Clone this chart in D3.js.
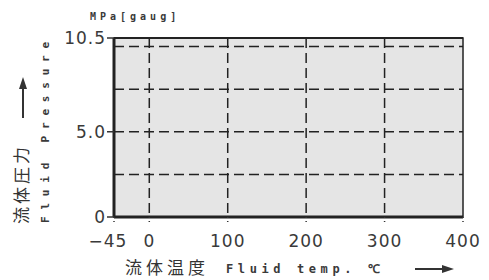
<!DOCTYPE html>
<html>
  <head>
    <meta charset="utf-8">
    <title>Fluid Pressure vs Fluid Temperature</title>
    <style>
      body { margin: 0; background: #fff; }
      .tick text { font: 17px "DejaVu Sans", sans-serif; fill: #3a3a3a; letter-spacing: 1px; }
      .mono { font-family: "DejaVu Sans Mono", monospace; font-weight: bold; fill: #3a3a3a; }
      .jp { font-family: "Noto Sans CJK JP", sans-serif; fill: #333; }
      .grid { stroke: #222; stroke-width: 1.5; stroke-dasharray: 10 5; fill: none; }
    </style>
  </head>
  <body>
    <div id="chart"></div>
    <script src="https://d3js.org/d3.v7.min.js"></script>
    <script>
      // axis ticks and grid positions
      const xTicks = [-45, 0, 100, 200, 300, 400];
      const yTicks = [0, 5.0, 10.5];
      const yTickLabels = ["0", "5.0", "10.5"];
      const xGrid = [0, 100, 200, 300];
      const yGrid = [2.5, 5, 7.5, 10];

      const width = 489, height = 280;

      const svg = d3.select("#chart").append("svg")
          .attr("width", width)
          .attr("height", height);

      const x = d3.scaleLinear().domain([-45, 400]).range([114, 463]);
      const y = d3.scaleLinear().domain([0, 10.5]).range([217, 38]);

      // plot area
      svg.append("rect")
          .attr("x", x(-45)).attr("y", y(10.5))
          .attr("width", x(400) - x(-45)).attr("height", y(0) - y(10.5))
          .attr("fill", "#e5e5e5");

      // dashed grid
      svg.selectAll(".vg").data(xGrid).enter().append("line")
          .attr("class", "grid")
          .attr("x1", d => x(d)).attr("x2", d => x(d))
          .attr("y1", y(10.5)).attr("y2", y(0));
      svg.selectAll(".hg").data(yGrid).enter().append("line")
          .attr("class", "grid")
          .attr("x1", x(-45)).attr("x2", x(400))
          .attr("y1", d => y(d)).attr("y2", d => y(d));

      // frame
      svg.append("rect")
          .attr("x", x(-45)).attr("y", y(10.5))
          .attr("width", x(400) - x(-45)).attr("height", y(0) - y(10.5))
          .attr("fill", "none").attr("stroke", "#222").attr("stroke-width", 1.5);
      svg.append("line").attr("x1", x(-45)).attr("x2", x(-45))
          .attr("y1", y(10.5)).attr("y2", y(0))
          .attr("stroke", "#222").attr("stroke-width", 3);
      svg.append("line").attr("x1", x(-45)).attr("x2", x(400))
          .attr("y1", y(0)).attr("y2", y(0))
          .attr("stroke", "#222").attr("stroke-width", 3);
      svg.append("line").attr("x1", x(-45)).attr("x2", x(400))
          .attr("y1", y(10.5)).attr("y2", y(10.5))
          .attr("stroke", "#222").attr("stroke-width", 2);

      // y ticks
      const yt = svg.selectAll(".ytick").data(yTicks).enter().append("g")
          .attr("class", "tick")
          .attr("transform", d => `translate(${x(-45)},${y(d)})`);
      yt.append("line").attr("x1", -7).attr("x2", 0)
          .attr("stroke", "#333").attr("stroke-width", 1.5);
      yt.append("text")
          .attr("x", -8).attr("dy", "0.36em")
          .attr("text-anchor", "end")
          .text((d, i) => yTickLabels[i]);

      // x ticks
      const xt = svg.selectAll(".xtick").data(xTicks).enter().append("g")
          .attr("class", "tick")
          .attr("transform", d => `translate(${x(d)},${y(0)})`);
      xt.append("line").attr("y1", 0).attr("y2", 5)
          .attr("stroke", "#333").attr("stroke-width", 1.5).attr("stroke-dasharray", "1 3");
      xt.append("text")
          .attr("x", d => d === -45 ? -6 : 0).attr("y", 30)
          .attr("text-anchor", "middle")
          .text(d => d < 0 ? "\u2212" + Math.abs(d) : d);

      // unit label
      svg.append("text").attr("class", "mono")
          .attr("x", 90).attr("y", 20)
          .attr("font-size", 10).attr("letter-spacing", 4)
          .text("MPa[gaug]");

      // y axis title
      svg.append("text").attr("class", "mono")
          .attr("transform", "translate(49,223) rotate(-90)")
          .attr("font-size", 11).attr("letter-spacing", 6.8)
          .text("Fluid Pressure");
      svg.append("text").attr("class", "jp")
          .attr("transform", "translate(28,224) rotate(-90)")
          .attr("font-size", 17).attr("letter-spacing", 3)
          .text("流体圧力");

      // x axis title
      svg.append("text").attr("class", "jp")
          .attr("x", 125).attr("y", 274)
          .attr("font-size", 17).attr("letter-spacing", 4)
          .text("流体温度");
      svg.append("text").attr("class", "mono")
          .attr("x", 226).attr("y", 273)
          .attr("font-size", 12).attr("letter-spacing", 4.6)
          .text("Fluid temp. ℃");

      // arrows
      const arrow = (x1, y1, x2, y2) => {
        svg.append("line").attr("x1", x1).attr("y1", y1).attr("x2", x2).attr("y2", y2)
            .attr("stroke", "#333").attr("stroke-width", 2);
      };
      arrow(23, 118, 23, 86);
      svg.append("path").attr("d", "M23,77 L19,89 L27,89 Z").attr("fill", "#333");
      arrow(415, 269, 444, 269);
      svg.append("path").attr("d", "M454,269 L442,265 L442,273 Z").attr("fill", "#333");
    </script>
  </body>
</html>
